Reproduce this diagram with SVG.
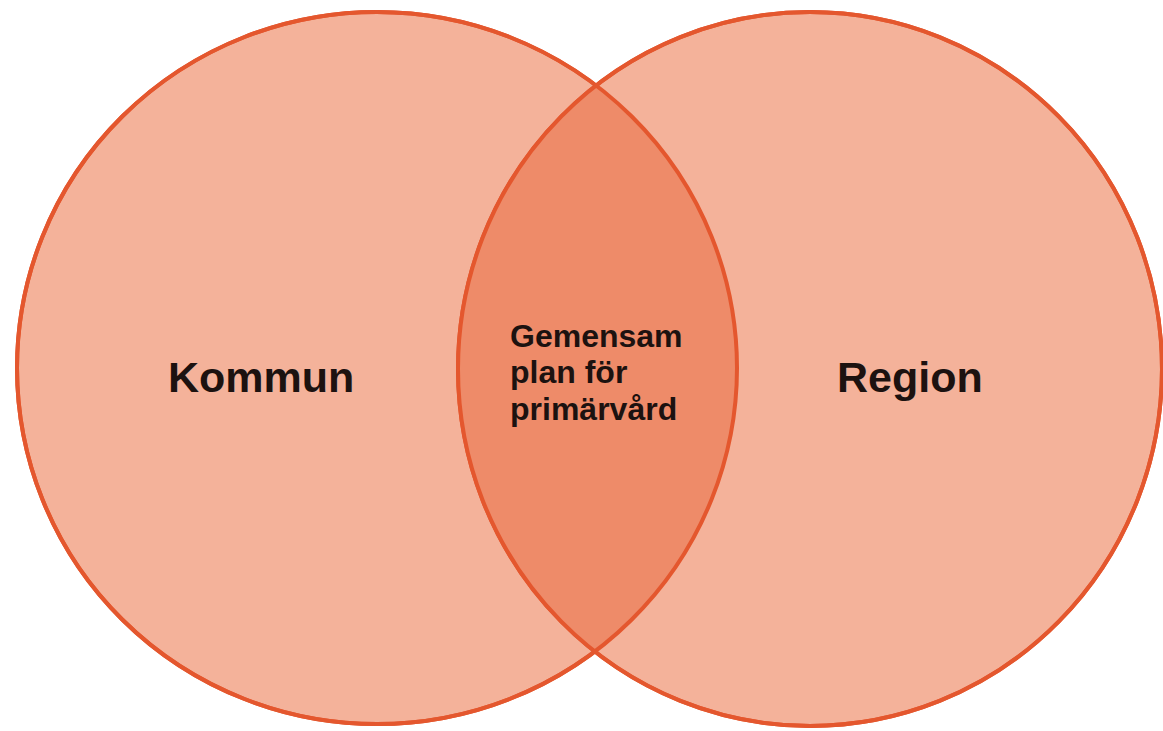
<svg xmlns="http://www.w3.org/2000/svg" width="1163" height="731" viewBox="0 0 1163 731">
<style>
.c{fill:#F4B29A;stroke:#E4572E;stroke-width:4}
.lens{fill:#EE8B69;stroke:none}
.t{font-family:"Liberation Sans",Arial,sans-serif;font-weight:bold;fill:#1c1210}
.big{font-size:43px}
.small{font-size:32px}
</style>
<defs>
<clipPath id="clipL"><ellipse cx="377" cy="368" rx="360" ry="356"/></clipPath>
</defs>
<rect width="1163" height="731" fill="#ffffff"/>
<g id="kommun">
<ellipse class="c" cx="377" cy="368" rx="360" ry="356"/>
</g>
<g id="region">
<ellipse class="c" cx="810" cy="369" rx="352" ry="357"/>
</g>
<g id="gemensam">
<ellipse class="lens" cx="810" cy="369" rx="352" ry="357" clip-path="url(#clipL)"/>
<ellipse cx="377" cy="368" rx="360" ry="356" fill="none" stroke="#E4572E" stroke-width="4"/>
<ellipse cx="810" cy="369" rx="352" ry="357" fill="none" stroke="#E4572E" stroke-width="4"/>
<text class="t small" x="510" y="347">Gemensam</text>
<text class="t small" x="510" y="383">plan för</text>
<text class="t small" x="510" y="420">primärvård</text>
</g>
<text class="t big" x="168" y="392">Kommun</text>
<text class="t big" x="837" y="392">Region</text>
</svg>
